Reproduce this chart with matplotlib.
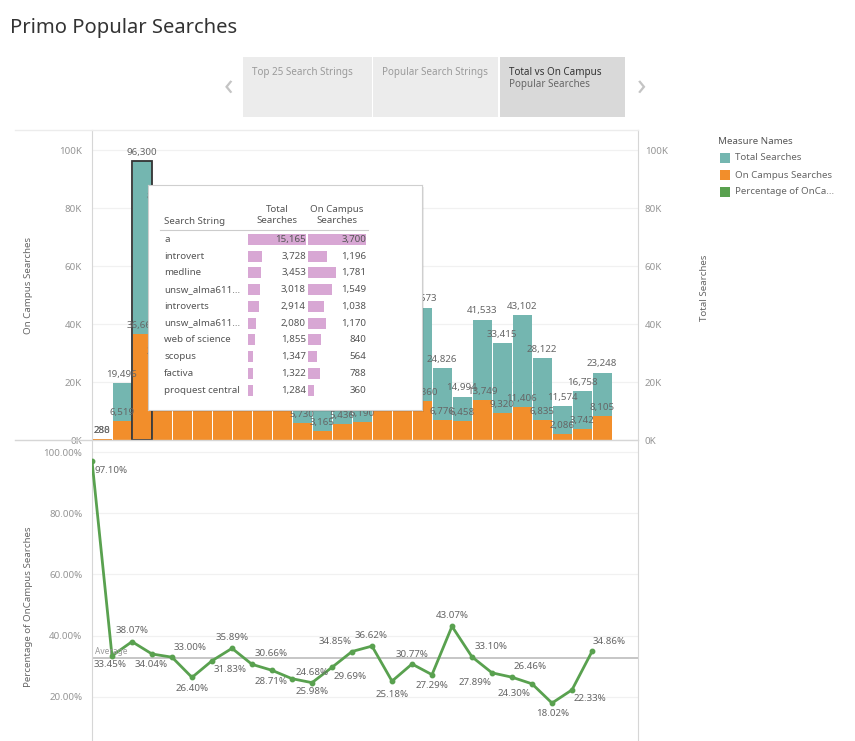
import numpy as np
import matplotlib
matplotlib.use('Agg')
import matplotlib.pyplot as plt
from matplotlib.patches import Rectangle
from matplotlib.lines import Line2D
from matplotlib.ticker import FuncFormatter, MultipleLocator

plt.rcParams['font.family'] = ['Noto Sans', 'DejaVu Sans']

W, H = 855, 741

# Bars: one per search string (x axis is unlabeled in the dashboard)
total_searches = [288, 19496, 96300, 80900, 36000, 42000, 38500, 33000, 40000, 41000,
                  22055, 12824, 18309, 17760, 30040, 45670, 45673, 24826, 14994, 41533,
                  33415, 43102, 28122, 11574, 16758, 23248]
on_campus_searches = [280, 6519, 36661, 27538, 11880, 11088, 12255, 11844, 12264, 11771,
                      5730, 3165, 5436, 6190, 11000, 11500, 13360, 6776, 6458, 13749,
                      9320, 11406, 6835, 2086, 3742, 8105]
pct_on_campus = [97.10, 33.45, 38.07, 34.04, 33.00, 26.40, 31.83, 35.89, 30.66, 28.71,
                 25.98, 24.68, 29.69, 34.85, 36.62, 25.18, 30.77, 27.29, 43.07, 33.10,
                 27.89, 26.46, 24.30, 18.02, 22.33, 34.86]

# Tooltip table
tip_strings = ['a', 'introvert', 'medline', 'unsw_alma611...', 'introverts', 'unsw_alma611...',
               'web of science', 'scopus', 'factiva', 'proquest central']
tip_total = [15165, 3728, 3453, 3018, 2914, 2080, 1855, 1347, 1322, 1284]
tip_campus = [3700, 1196, 1781, 1549, 1038, 1170, 840, 564, 788, 360]

nav_tabs = ['Top 25 Search Strings', 'Popular Search Strings', 'Total vs On Campus']
legend_names = ['Total Searches', 'On Campus Searches', 'Percentage of OnCa...']

TEAL = '#74b6b0'
ORANGE = '#f28e2b'
GREEN = '#59a14f'
PINK = '#d8a7d4'
TEXT = '#666666'
TICK = '#959595'
GRID = '#f1f1f1'
BORDER = '#d6d6d6'

# pixel offsets (dx, dy down) of each percentage label from its point
pct_offsets = [(19, 10), (-2, 9), (0, -11), (-1, 11), (18, -10), (0, 11), (18, 9), (0, -11),
               (19, -11), (-1, 11), (20, 13), (0, -10), (18, 9), (-17, -10), (-1, -11),
               (0, 13), (0, -10), (0, 11), (0, -11), (19, -10), (-17, 10), (18, -11),
               (-18, 10), (1, 10), (18, 9), (17, -10)]

# tooltip box in pixels (left, top, width, height)
TIP = (148, 185, 274, 225)
TOP = (92, 130, 546, 310)
YMAX = 106900


def box(x, y, w, h):
    # pixel box with top-left origin -> figure fraction
    return [x / W, 1 - (y + h) / H, w / W, h / H]


def fpt(x, y):
    return x / W, 1 - y / H


def hidden_by_tip(i, v):
    # True when a bar label sits completely under the tooltip
    px = TOP[0] + (i + 0.5) / 27.3 * TOP[2]
    py = TOP[1] + TOP[3] * (1 - v / YMAX)
    return (px - 17 > TIP[0] and px + 17 < TIP[0] + TIP[2]
            and py - 16 > TIP[1] and py - 4 < TIP[1] + TIP[3] - 2)


fig = plt.figure(figsize=(W / 100, H / 100), dpi=100)
fig.patch.set_facecolor('white')

# Title and navigation tabs
fig.text(*fpt(10, 28), 'Primo Popular Searches', fontsize=14.5, color='#333333', va='center')
tab_boxes = [(243, 129, '#ececec'), (373, 125, '#ececec'), (500, 125, '#d9d9d9')]
for (tx, tw, tc), name in zip(tab_boxes, nav_tabs):
    fig.add_artist(Rectangle(fpt(tx, 117), tw / W, 60 / H, transform=fig.transFigure,
                             facecolor=tc, edgecolor='none'))
    dark = tc == '#d9d9d9'
    fig.text(*fpt(tx + 9, 73), name, fontsize=7.1, color='#333333' if dark else '#9a9a9a',
             va='center')
fig.text(*fpt(509, 85), 'Popular Searches', fontsize=7.1, color='#666666', va='center')
fig.text(*fpt(228, 87), '\u2039', fontsize=22, color='#c4c4c4', ha='center', va='center')
fig.text(*fpt(642, 87), '\u203a', fontsize=22, color='#c4c4c4', ha='center', va='center')

# Panel separator lines
fig.add_artist(Line2D([15 / W, 638 / W], [1 - 440 / H] * 2, transform=fig.transFigure,
                      color=BORDER, lw=1))
fig.add_artist(Line2D([15 / W, 638 / W], [1 - 130 / H] * 2, transform=fig.transFigure,
                      color='#ececec', lw=1))

# ---- Top panel: total vs on campus bars ----
ax = fig.add_axes(box(*TOP))
x = np.arange(len(total_searches))
ax.bar(x + 0.5, total_searches, width=0.95, color=TEAL, zorder=2)
ax.bar(x + 0.5, on_campus_searches, width=0.95, color=ORANGE, zorder=3)

hl = int(np.argmax(total_searches))
ax.add_patch(Rectangle((hl + 0.02, 0), 0.96, total_searches[hl], fill=False,
                       edgecolor='#333333', lw=1.3, zorder=4))

for i, (t, c) in enumerate(zip(total_searches, on_campus_searches)):
    for v in (t, c):
        if hidden_by_tip(i, v):
            continue
        ax.annotate(f'{v:,}', (i + 0.5, v), xytext=(0, 3), textcoords='offset points',
                    ha='center', va='bottom', fontsize=7, color=TEXT, zorder=5)

ax.set_xlim(0, 27.3)
ax.set_ylim(0, YMAX)
ax.set_xticks([])
ax.yaxis.set_major_locator(MultipleLocator(20000))
kfmt = FuncFormatter(lambda v, p: f'{int(round(v / 1000))}K')
ax.yaxis.set_major_formatter(kfmt)
ax.yaxis.grid(True, color=GRID, lw=0.9)
ax.set_axisbelow(True)
ax.tick_params(axis='y', length=0, pad=7, labelsize=7, labelcolor=TICK)
for s in ['top', 'bottom']:
    ax.spines[s].set_visible(False)
for s in ['left', 'right']:
    ax.spines[s].set_color(BORDER)
ax.set_ylabel('On Campus Searches', fontsize=7, color=TEXT)
ax.yaxis.set_label_coords(-0.108, 0.5)

ax2 = ax.twinx()
ax2.set_ylim(ax.get_ylim())
ax2.yaxis.set_major_locator(MultipleLocator(20000))
ax2.yaxis.set_major_formatter(kfmt)
ax2.tick_params(axis='y', length=0, pad=5, labelsize=7, labelcolor=TICK)
for s in ax2.spines.values():
    s.set_visible(False)
ax2.set_ylabel('Total Searches', fontsize=7, color=TEXT, rotation=90)
ax2.yaxis.set_label_coords(1.1136, 0.49)

# ---- Bottom panel: percentage line ----
axb = fig.add_axes(box(92, 440, 546, 301))
axb.plot(x, pct_on_campus, color=GREEN, lw=2, marker='o', ms=3.2, zorder=3)
avg = np.mean(pct_on_campus)
axb.axhline(avg, color='#c2c2c2', lw=1.3, zorder=2)
axb.annotate('Average', (0, avg), xycoords=('axes fraction', 'data'), xytext=(3, 2),
             textcoords='offset pixels', fontsize=6, color='#999999', va='bottom')
for i, (v, (dx, dy)) in enumerate(zip(pct_on_campus, pct_offsets)):
    axb.annotate(f'{v:.2f}%', (i, v), xytext=(dx, -dy), textcoords='offset pixels',
                 ha='center', va='center', fontsize=7, color=TEXT, zorder=5)
axb.set_xlim(0, 27.3)
axb.set_ylim(5.63, 103.92)
axb.set_xticks([])
axb.yaxis.set_major_locator(MultipleLocator(20))
axb.yaxis.set_major_formatter(FuncFormatter(lambda v, p: f'{v:.2f}%'))
axb.yaxis.grid(True, color=GRID, lw=0.9)
axb.set_axisbelow(True)
axb.tick_params(axis='y', length=0, pad=7, labelsize=7, labelcolor=TICK)
for s in ['top', 'bottom']:
    axb.spines[s].set_visible(False)
for s in ['left', 'right']:
    axb.spines[s].set_color(BORDER)
axb.set_ylabel('Percentage of OnCampus Searches', fontsize=7, color=TEXT)
axb.yaxis.set_label_coords(-0.108, 0.445)

# ---- Legend ----
fig.text(*fpt(718, 142), 'Measure Names', fontsize=7, color='#555555', va='center')
for k, (name, col) in enumerate(zip(legend_names, [TEAL, ORANGE, GREEN])):
    yy = 158 + 17 * k
    fig.add_artist(Rectangle(fpt(720, yy + 5), 10 / W, 10 / H, transform=fig.transFigure,
                             facecolor=col, edgecolor='none'))
    fig.text(*fpt(735, yy), name, fontsize=7, color=TEXT, va='center')

# ---- Tooltip ----
fig.add_artist(Rectangle(fpt(TIP[0] + 2, TIP[1] + TIP[3] + 2), TIP[2] / W, TIP[3] / H,
                         transform=fig.transFigure, facecolor='#000000', alpha=0.08,
                         edgecolor='none', zorder=8))
tip = fig.add_axes(box(*TIP))
tip.set_zorder(10)
tip.set_xlim(0, TIP[2])
tip.set_ylim(TIP[3], 0)
tip.set_xticks([])
tip.set_yticks([])
for s in tip.spines.values():
    s.set_color('#cfcfcf')
tip.text(16, 37, 'Search String', fontsize=7, color='#555555', va='center')
tip.text(129, 30, 'Total\nSearches', fontsize=7, color='#555555', ha='center', va='center',
         linespacing=1.2)
tip.text(189, 30, 'On Campus\nSearches', fontsize=7, color='#555555', ha='center',
         va='center', linespacing=1.2)
tip.plot([12, 220], [45, 45], color='#cccccc', lw=0.8)
for i, name in enumerate(tip_strings):
    tip.text(16, 54.3 + 16.75 * i, name, fontsize=7, color='#555555', va='center')

rows = np.arange(len(tip_strings))
for cx, vals in [(248, tip_total), (308, tip_campus)]:
    cax = fig.add_axes(box(cx, 231, 58, 167.5))
    cax.set_zorder(11)
    cax.patch.set_visible(False)
    cax.barh(rows, vals, height=0.66, color=PINK)
    cax.set_xlim(0, max(vals))
    cax.set_ylim(len(rows) - 0.5, -0.5)
    cax.axis('off')
    for r, v in zip(rows, vals):
        cax.text(max(vals), r, f'{v:,}', fontsize=7, color='#555555', ha='right', va='center')

fig.savefig('out.png', dpi=100, facecolor='white')
